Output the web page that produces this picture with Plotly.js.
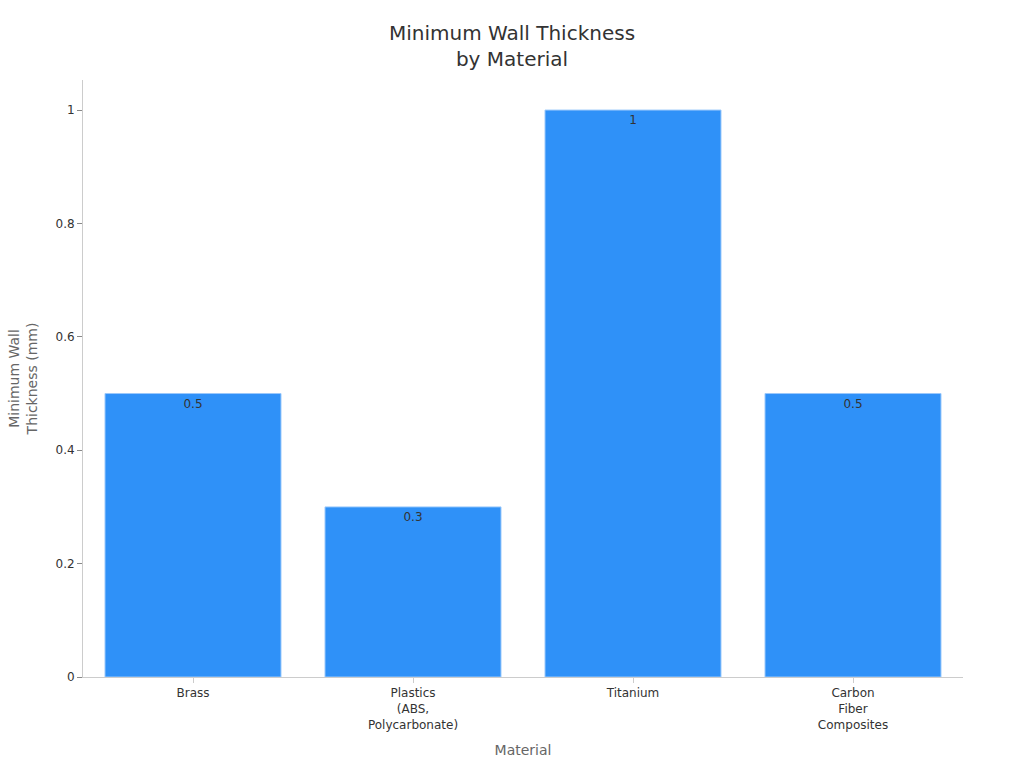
<!DOCTYPE html>
<html>
<head>
<meta charset="utf-8">
<script src="https://cdn.plot.ly/plotly-3.0.1.min.js"></script>
<style>
  html, body { margin: 0; padding: 0; background: #fff; }
  #chart { width: 1024px; height: 768px; }
</style>
</head>
<body>
<div id="chart"></div>
<script>
/* Minimum wall thickness by material */
const MATERIALS = ['Brass', 'Plastics<br>(ABS,<br>Polycarbonate)', 'Titanium', 'Carbon<br>Fiber<br>Composites'];
const THICKNESS = [0.5, 0.3, 1, 0.5];

const BAR_COLOR = '#2f91f8';
const AXIS_GREY = '#cccccc';

Plotly.newPlot('chart', [{
    x: MATERIALS,
    y: THICKNESS,
    type: 'bar',
    width: 0.8,
    text: THICKNESS.map(String),
    textposition: 'inside',
    insidetextanchor: 'end',
    textfont: { size: 12, color: '#333333', family: 'DejaVu Sans' },
    marker: { color: BAR_COLOR, line: { color: '#9cc9fb', width: 1 } },
    hoverinfo: 'none'
}], {
    width: 1024,
    height: 768,
    paper_bgcolor: '#ffffff',
    plot_bgcolor: '#ffffff',
    font: { family: 'DejaVu Sans', color: '#333333', size: 12 },
    margin: { t: 80, b: 91, l: 83, r: 61 },
    title: {
        text: 'Minimum Wall Thickness<br>by Material',
        x: 0.5, xanchor: 'center',
        y: 0.948, yanchor: 'top',
        font: { size: 20, color: '#333333' }
    },
    bargap: 0.2,
    showlegend: false,
    xaxis: {
        title: { text: 'Material', font: { size: 14, color: '#666666' }, standoff: 14 },
        showline: true, linecolor: AXIS_GREY, linewidth: 1,
        ticks: 'outside', ticklen: 5, tickcolor: AXIS_GREY,
        tickfont: { size: 12, color: '#333333' },
        showgrid: false
    },
    yaxis: {
        title: { text: 'Minimum Wall<br>Thickness (mm)', font: { size: 14, color: '#666666' }, standoff: 14 },
        range: [0, 1.053],
        dtick: 0.2,
        showline: true, linecolor: AXIS_GREY, linewidth: 1,
        ticks: 'outside', ticklen: 5, tickcolor: '#888888',
        tickfont: { size: 12, color: '#333333' },
        showgrid: false, zeroline: false
    }
}, { displayModeBar: false, responsive: false });
</script>
</body>
</html>
